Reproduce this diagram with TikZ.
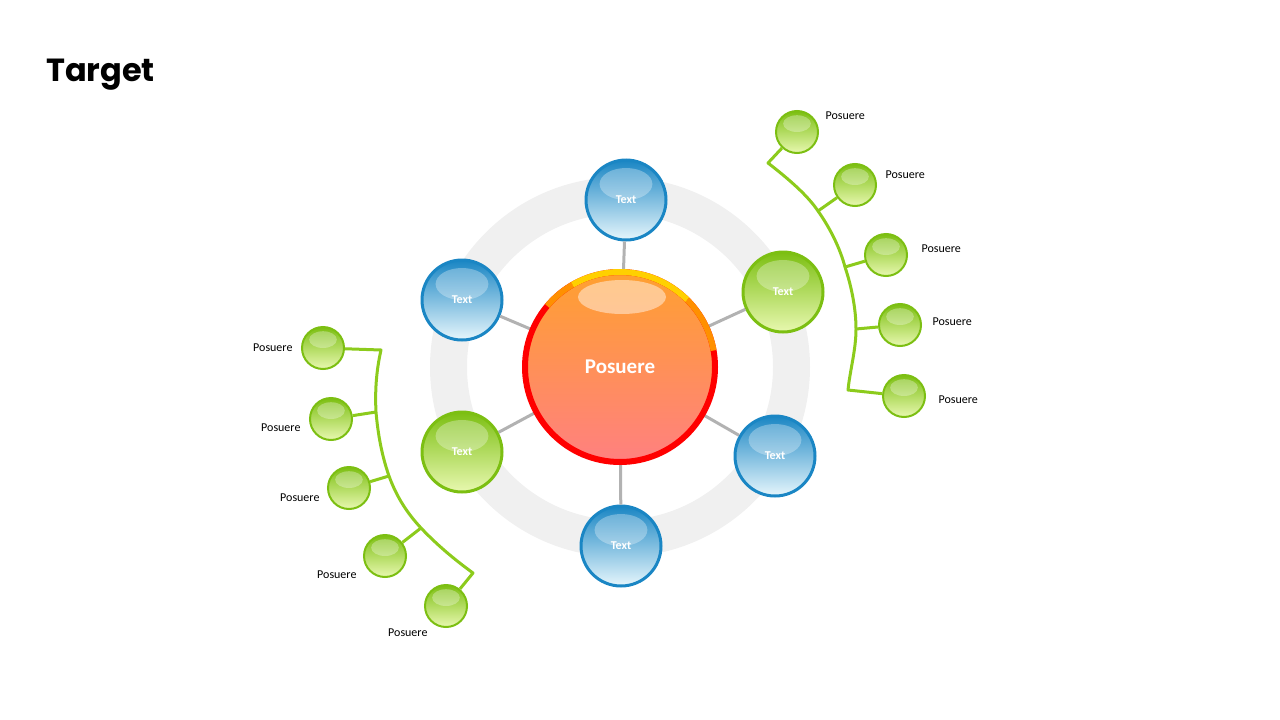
\documentclass[tikz,border=0pt]{standalone}
\usepackage{fontspec}
\setmainfont{Carlito}
\newfontfamily\titlefont{Poppins}
\definecolor{bdark}{HTML}{1A86C4}
\definecolor{bmid}{HTML}{4FB4E6}
\definecolor{blight}{HTML}{E6F6FC}
\definecolor{gdark}{HTML}{7CBF12}
\definecolor{gmid}{HTML}{A6D82C}
\definecolor{glight}{HTML}{E8F8B0}
\definecolor{trunkc}{HTML}{8CCB1C}
\definecolor{ringc}{HTML}{F0F0F0}
\definecolor{corange}{HTML}{FFA030}
\definecolor{cred}{HTML}{FF5555}
\definecolor{cpink}{HTML}{FF8080}
\definecolor{rimy}{HTML}{FFD000}
\definecolor{rimo}{HTML}{FF9000}
\begin{document}
\begin{tikzpicture}[x=1pt,y=-1pt,
  ball/.style n args={5}{circle, minimum size=#1, inner sep=0pt, draw=#2, line width=#5,
     top color=#2, middle color=#3, bottom color=#4,
     path picture={\fill[white,opacity=0.3] ([yshift=0.2*#1]path picture bounding box.center) ellipse (0.33*#1 and 0.2*#1);}},
  bball/.style={ball={80pt}{bdark}{bmid}{blight}{3pt}, text=white, font=\fontsize{12}{14}\selectfont\bfseries},
  gball/.style={ball={80pt}{gdark}{gmid}{glight}{3pt}, text=white, font=\fontsize{12}{14}\selectfont\bfseries},
  sball/.style={ball={42pt}{gdark}{gmid}{glight}{2pt}},
  spoke/.style={draw=gray!60, line width=3pt},
  trunk/.style={draw=trunkc, line width=3pt, line join=round},
  lab/.style={font=\fontsize{12}{14}\selectfont}]
\useasboundingbox (0,0) rectangle (1280,720);
\node[anchor=west, font=\titlefont\bfseries\fontsize{32}{36}\selectfont, inner sep=0pt] (title) at (46,75) {Target};
% ring
\fill[ringc, even odd rule] (620,367) circle (190) (620,367) circle (153);
% center
\coordinate (c) at (620,367);
\node[bball] (t1) at (626,200) {Text};
\node[gball] (t2) at (783,292) {Text};
\node[bball] (t3) at (775,456) {Text};
\node[bball] (t4) at (621,546) {Text};
\node[gball] (t5) at (462,452) {Text};
\node[bball] (t6) at (462,300) {Text};
\foreach \t in {t1,t2,t3,t4,t5,t6} \draw[spoke] (c) -- (\t);
\node[circle, minimum size=190pt, inner sep=0pt, draw=red, line width=6pt,
  top color=corange, middle color=cred, bottom color=cpink,
  font=\fontsize{21}{24}\selectfont\bfseries, text=white] (center) at (c) {Posuere};
\draw[rimo, line width=6pt] (c) ++(-140:95) arc[start angle=-140, end angle=-120, radius=95];
\draw[rimo, line width=6pt] (c) ++(-45:95) arc[start angle=-45, end angle=-10, radius=95];
\draw[rimy, line width=6pt] (c) ++(-120:95) arc[start angle=-120, end angle=-45, radius=95];
\fill[white,opacity=0.45] (622,297) ellipse (44 and 17);
% right group
\node[sball] (r1) at (797,132) {};
\node[sball] (r2) at (855,185) {};
\node[sball] (r3) at (886,255) {};
\node[sball] (r4) at (900,325) {};
\node[sball] (r5) at (904,396) {};
\coordinate (ra) at (768,163); \coordinate (rb) at (818,211);
\coordinate (rc) at (845,267); \coordinate (rd) at (856,329); \coordinate (re) at (848,390);
\draw[trunk] (r1) -- (ra) .. controls (790,180) and (808,196) .. (rb)
  .. controls (830,228) and (840,248) .. (rc) .. controls (852,288) and (856,310) .. (rd)
  .. controls (856,350) and (850,370) .. (re) -- (r5);
\draw[trunk] (rb) -- (r2); \draw[trunk] (rc) -- (r3); \draw[trunk] (rd) -- (r4);
\node[lab, anchor=west] (rl1) at (822,116) {Posuere};
\node[lab, anchor=west] (rl2) at (882,175) {Posuere};
\node[lab, anchor=west] (rl3) at (918,249) {Posuere};
\node[lab, anchor=west] (rl4) at (929,322) {Posuere};
\node[lab, anchor=west] (rl5) at (935,400) {Posuere};
% left group
\node[sball] (l1) at (323,348) {};
\node[sball] (l2) at (331,419) {};
\node[sball] (l3) at (349,488) {};
\node[sball] (l4) at (385,556) {};
\node[sball] (l5) at (446,606) {};
\coordinate (la) at (381,350); \coordinate (lb) at (376,412);
\coordinate (lc) at (389,476); \coordinate (ld) at (421,528); \coordinate (le) at (473,573);
\draw[trunk] (l1) -- (la) .. controls (376,372) and (375,392) .. (lb)
  .. controls (378,435) and (382,456) .. (lc) .. controls (397,498) and (408,514) .. (ld)
  .. controls (440,548) and (458,562) .. (le) -- (l5);
\draw[trunk] (lb) -- (l2); \draw[trunk] (lc) -- (l3); \draw[trunk] (ld) -- (l4);
\node[lab, anchor=east] (ll1) at (296,348) {Posuere};
\node[lab, anchor=east] (ll2) at (304,428) {Posuere};
\node[lab, anchor=east] (ll3) at (323,498) {Posuere};
\node[lab, anchor=east] (ll4) at (360,575) {Posuere};
\node[lab, anchor=east] (ll5) at (431,633) {Posuere};
\end{tikzpicture}
\end{document}
